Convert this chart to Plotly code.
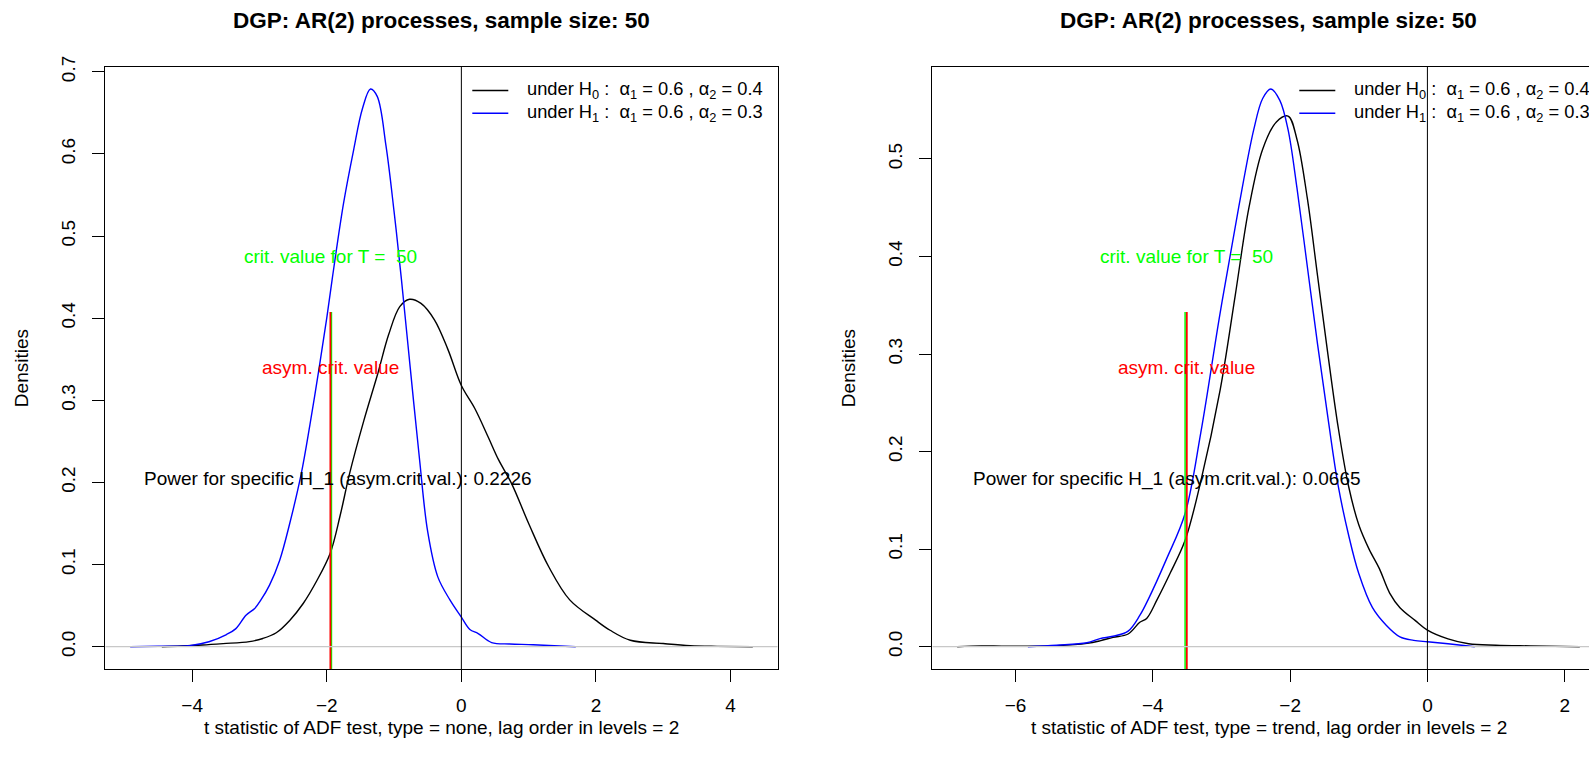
import plotly.graph_objects as go

# ---------------- data ----------------
# Left panel: type = none
left_h0_x = [-4.45, -4.16, -3.85, -3.54, -3.15, -2.95, -2.75, -2.55, -2.35, -2.15, -1.95, -1.8, -1.66,
             -1.45, -1.24, -1.08, -0.915, -0.77, -0.6, -0.4, -0.2, 0.0, 0.2, 0.4, 0.55, 0.75, 1.0, 1.3,
             1.61, 2.0, 2.21, 2.51, 3.0, 3.4, 3.8, 4.33]
left_h0_y = [0.0, 0.0008, 0.002, 0.0037, 0.0062, 0.010, 0.017, 0.032, 0.0526, 0.08, 0.1135, 0.16, 0.211,
             0.275, 0.333, 0.38, 0.414, 0.423, 0.418, 0.398, 0.362, 0.318, 0.29, 0.255, 0.228, 0.198, 0.15,
             0.097, 0.057, 0.032, 0.02, 0.0078, 0.0038, 0.0012, 0.0004, 0.0]
left_h1_x = [-4.92, -4.5, -4.04, -3.75, -3.49, -3.35, -3.2, -3.07, -2.98, -2.85, -2.7, -2.55, -2.38, -2.25,
             -2.11, -2.0, -1.92, -1.75, -1.6, -1.47, -1.35, -1.25, -1.12, -1.0, -0.89, -0.76, -0.62, -0.5,
             -0.35, -0.17, 0.0, 0.126, 0.25, 0.45, 0.72, 1.0, 1.3, 1.7]
left_h1_y = [0.0, 0.0005, 0.0013, 0.006, 0.0148, 0.022, 0.0383, 0.0465, 0.0566, 0.075, 0.105, 0.15, 0.21,
             0.27, 0.341, 0.40, 0.447, 0.54, 0.605, 0.655, 0.679, 0.67, 0.61, 0.53, 0.447, 0.34, 0.227, 0.14,
             0.085, 0.057, 0.036, 0.021, 0.016, 0.005, 0.0033, 0.0025, 0.0015, 0.0]
left_crit_T = -1.93      # crit. value for T = 50
left_crit_asym = -1.946  # asymptotic crit. value
left_power = "0.2226"

# Right panel: type = trend
right_h0_x = [-6.85, -6.5, -6.2, -5.82, -5.4, -4.96, -4.77, -4.58, -4.36, -4.19, -4.09, -3.94, -3.75, -3.53,
              -3.3, -3.02, -2.8, -2.6, -2.4, -2.2, -2.03, -1.9, -1.75, -1.6, -1.45, -1.3, -1.15, -1.0, -0.85,
              -0.7, -0.55, -0.4, -0.18, 0.0, 0.3, 0.6, 1.0, 1.5, 2.22]
right_h0_y = [0.0, 0.0008, 0.0005, 0.0004, 0.001, 0.0034, 0.006, 0.0096, 0.013, 0.025, 0.029, 0.048, 0.075,
              0.109, 0.17, 0.263, 0.36, 0.45, 0.51, 0.538, 0.544, 0.52, 0.46, 0.38, 0.30, 0.225, 0.165, 0.125,
              0.1, 0.08, 0.055, 0.04, 0.027, 0.017, 0.008, 0.003, 0.0015, 0.0008, 0.0]
right_h1_x = [-5.82, -5.4, -4.96, -4.77, -4.58, -4.36, -4.19, -4.07, -3.8, -3.53, -3.3, -3.02, -2.75, -2.53,
              -2.4, -2.28, -2.15, -2.03, -1.9, -1.75, -1.6, -1.45, -1.3, -1.15, -1.0, -0.8, -0.6, -0.4, -0.2,
              0.0, 0.3, 0.69]
right_h1_y = [0.0, 0.0015, 0.004, 0.0083, 0.0107, 0.016, 0.032, 0.048, 0.09, 0.1365, 0.22, 0.342, 0.45, 0.53,
              0.562, 0.5717, 0.56, 0.53, 0.47, 0.39, 0.31, 0.235, 0.165, 0.115, 0.075, 0.04, 0.022, 0.01,
              0.0065, 0.005, 0.003, 0.0]
right_crit_T = -3.53
right_crit_asym = -3.505
right_power = "0.0665"

panel_titles = ["DGP: AR(2) processes, sample size: 50", "DGP: AR(2) processes, sample size: 50"]
x_labels = ["t statistic of ADF test, type = none, lag order in levels = 2",
            "t statistic of ADF test, type = trend, lag order in levels = 2"]
y_label = "Densities"
legend_texts = ["under H<sub>0</sub>\u00a0:\u00a0 α<sub>1</sub> = 0.6 , α<sub>2</sub> = 0.4",
                "under H<sub>1</sub>\u00a0:\u00a0 α<sub>1</sub> = 0.6 , α<sub>2</sub> = 0.3"]
crit_T_label = "crit. value for T =\u00a0\u00a050"
crit_asym_label = "asym. crit. value"
power_label = "Power for specific H_1 (asym.crit.val.): "
left_power_x = -1.83
right_power_x = -3.79

# ---------------- layout geometry ----------------
W, H = 1589, 763
FONT = "Liberation Sans, Arial, Helvetica, sans-serif"
FS = 19
box_left = [105.3, 932.3]
box_w = 672.4
box_top, box_bot = 66.7, 669.0


def xr(xs):
    lo, hi = min(xs), max(xs)
    e = 0.04 * (hi - lo)
    return lo - e, hi + e


def px(p):
    return p / W


def py(p):
    return 1 - p / H


fig = go.Figure()

panels = [
    dict(h0=(left_h0_x, left_h0_y), h1=(left_h1_x, left_h1_y), cT=left_crit_T, cA=left_crit_asym,
         pw=left_power, pwx=left_power_x, xa="x", ya="y", dtick=2),
    dict(h0=(right_h0_x, right_h0_y), h1=(right_h1_x, right_h1_y), cT=right_crit_T, cA=right_crit_asym,
         pw=right_power, pwx=right_power_x, xa="x2", ya="y2", dtick=2),
]

annotations = []
shapes = []
for i, p in enumerate(panels):
    allx = p["h0"][0] + p["h1"][0]
    ally = p["h0"][1] + p["h1"][1]
    xlo, xhi = xr(allx)
    ymax = max(ally)
    ylo, yhi = -0.04 * ymax, 1.04 * ymax
    left_px = box_left[i]
    right_px = min(left_px + box_w, W)
    xhi_c = xlo + (xhi - xlo) * (right_px - left_px) / box_w
    xa, ya = p["xa"], p["ya"]
    axname = "xaxis" if i == 0 else "xaxis2"
    ayname = "yaxis" if i == 0 else "yaxis2"

    fig.add_trace(go.Scatter(x=p["h0"][0], y=p["h0"][1], mode="lines", line=dict(color="black", width=1.4),
                             xaxis=xa, yaxis=ya, showlegend=False, line_shape="spline"))
    fig.add_trace(go.Scatter(x=p["h1"][0], y=p["h1"][1], mode="lines", line=dict(color="blue", width=1.4),
                             xaxis=xa, yaxis=ya, showlegend=False, line_shape="spline"))
    # critical value lines
    fig.add_trace(go.Scatter(x=[p["cT"], p["cT"]], y=[ylo, 0.6 * ymax], mode="lines",
                             line=dict(color="#00FF00", width=1.5), xaxis=xa, yaxis=ya, showlegend=False))
    fig.add_trace(go.Scatter(x=[p["cA"], p["cA"]], y=[ylo, 0.6 * ymax], mode="lines",
                             line=dict(color="#FF0000", width=1.8), xaxis=xa, yaxis=ya, showlegend=False))

    # reference lines
    shapes.append(dict(type="line", xref=xa, yref=ya, x0=xlo, x1=xhi_c, y0=0, y1=0,
                       line=dict(color="#c8c8c8", width=1.3), layer="above"))
    shapes.append(dict(type="line", xref=xa, yref=ya, x0=0, x1=0, y0=ylo, y1=yhi,
                       line=dict(color="black", width=1), layer="above"))

    # text labels
    annotations.append(dict(x=p["cA"], y=0.7 * ymax, xref=xa, yref=ya, text=crit_T_label, showarrow=False,
                            font=dict(color="#00FF00", size=FS, family=FONT), xanchor="center", yanchor="middle"))
    annotations.append(dict(x=p["cA"], y=0.5 * ymax, xref=xa, yref=ya,
                            text=crit_asym_label, showarrow=False,
                            font=dict(color="#FF0000", size=FS, family=FONT), xanchor="center", yanchor="middle"))
    annotations.append(dict(x=p["pwx"], y=0.3 * ymax, xref=xa, yref=ya, text=power_label + p["pw"],
                            showarrow=False, font=dict(color="black", size=FS, family=FONT),
                            xanchor="center", yanchor="middle"))

    # titles
    cx = left_px + box_w / 2
    annotations.append(dict(x=px(cx), y=py(20), xref="paper", yref="paper", text="<b>" + panel_titles[i] + "</b>",
                            showarrow=False, font=dict(size=22.5, family=FONT, color="black"),
                            xanchor="center", yanchor="middle"))
    annotations.append(dict(x=px(cx), y=py(727), xref="paper", yref="paper", text=x_labels[i],
                            showarrow=False, font=dict(size=FS, family=FONT, color="black"),
                            xanchor="center", yanchor="middle"))
    annotations.append(dict(x=px(left_px - 83), y=py((box_top + box_bot) / 2), xref="paper", yref="paper",
                            text=y_label, textangle=-90, showarrow=False,
                            font=dict(size=FS, family=FONT, color="black"), xanchor="center", yanchor="middle"))

    # legend (drawn manually, no box)
    leg_x0 = 472.3 if i == 0 else 1299.3
    for j, (txt, col) in enumerate(zip(legend_texts, ["black", "blue"])):
        yy = 90.5 + j * 22.7
        shapes.append(dict(type="line", xref="paper", yref="paper", x0=px(leg_x0), x1=px(leg_x0 + 36),
                           y0=py(yy), y1=py(yy), line=dict(color=col, width=1.4)))
        annotations.append(dict(x=px(leg_x0 + 53), y=py(yy), xref="paper", yref="paper", text=txt,
                                showarrow=False, font=dict(size=18.3, family=FONT, color="black"),
                                xanchor="left", yanchor="middle"))

    fig.layout[axname] = dict(domain=[px(left_px), px(right_px)], range=[xlo, xhi_c], dtick=p["dtick"],
                              tick0=0, showgrid=False, zeroline=False, showline=True, mirror=True,
                              linecolor="black", linewidth=1, ticks="outside", ticklen=12,
                              tickcolor="black", tickwidth=1, anchor=ya, automargin=False,
                              tickfont=dict(size=FS, family=FONT, color="black"), ticklabelstandoff=7)
    fig.layout[ayname] = dict(domain=[1 - box_bot / H, 1 - box_top / H], range=[ylo, yhi], dtick=0.1,
                              tick0=0, tickformat=".1f", showgrid=False, zeroline=False, showline=True,
                              mirror=(i == 0), linecolor="black", linewidth=1, ticks="outside", ticklen=12,
                              tickcolor="black", tickwidth=1, tickangle=-90, anchor=xa, automargin=False,
                              tickfont=dict(size=FS, family=FONT, color="black"), ticklabelstandoff=10)

fig.update_layout(width=W, height=H, margin=dict(l=0, r=0, t=0, b=0, pad=0, autoexpand=False),
                  plot_bgcolor="white", paper_bgcolor="white", showlegend=False,
                  annotations=annotations, shapes=shapes,
                  font=dict(family=FONT, size=FS, color="black"))

fig.write_html("out.html", config={"displayModeBar": False},
               post_script="document.body.style.margin='0px';")
